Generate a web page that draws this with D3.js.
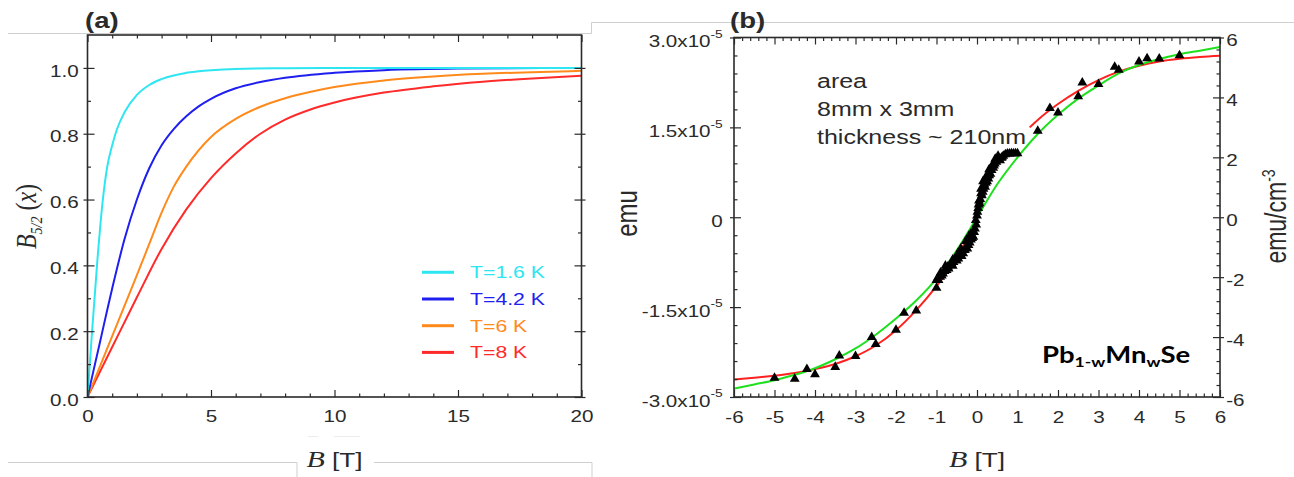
<!DOCTYPE html>
<html><head><meta charset="utf-8">
<script src="https://cdn.jsdelivr.net/npm/d3@7"></script>
<style>
html,body{margin:0;padding:0;background:#fff;}
svg{display:block;}
</style></head><body>
<svg id="c" width="1294" height="477"></svg>
<script>
// ================= DATA =================
// Panel (a): B_5/2(x) versus field B [T]
const cyanB   = [0,0.2,0.4,0.6,0.8,1.0,1.2,1.5,2,2.5,3,4,5,6,8,10,14,20];
const cyanV   = [0,0.215,0.415,0.585,0.70,0.765,0.815,0.865,0.918,0.948,0.966,0.985,0.993,0.997,0.999,1,1,1];
const blueB   = [0,0.5,1,1.5,2,2.5,3,3.5,4,4.5,5,6,7,8,10,12,15,20];
const blueV   = [0,0.165,0.33,0.48,0.60,0.695,0.765,0.815,0.853,0.883,0.906,0.938,0.957,0.97,0.985,0.993,0.998,1.0];
const orangeB = [0,1,2,2.5,3,3.5,4,5,6,7,8,9,10,12,14,16,18,20];
const orangeV = [0,0.185,0.37,0.465,0.56,0.64,0.70,0.79,0.845,0.882,0.908,0.927,0.942,0.962,0.974,0.982,0.987,0.991];
const redB    = [0,1,2,3,4,5,6,7,8,9,10,12,14,16,18,20];
const redV    = [0,0.152,0.303,0.45,0.57,0.665,0.74,0.80,0.843,0.873,0.895,0.925,0.944,0.958,0.968,0.976];
const legendLabels = ["T=1.6 K","T=4.2 K","T=6 K","T=8 K"];
const legendColors = ["#2ee6f2","#1f1ff0","#ff8a1c","#ff2a2a"];
const xTicksA  = [0,5,10,15,20];
const xLabelsA = ["0","5","10","15","20"];
const yTicksA  = [0,0.2,0.4,0.6,0.8,1.0];
const yLabelsA = ["0.0","0.2","0.4","0.6","0.8","1.0"];

// Panel (b): magnetization (emu/cm^3, right axis) versus B [T]
const greenB = [-6,-5.5,-5,-4.5,-4,-3.5,-3,-2.5,-2,-1.5,-1,-0.5,0,0.5,1,1.5,2,2.5,3,3.5,4,4.5,5,5.5,6];
const greenM = [-5.72,-5.58,-5.44,-5.26,-5.04,-4.74,-4.38,-3.92,-3.38,-2.78,-2.05,-1.1,0,1.1,2.0,2.78,3.42,3.96,4.4,4.8,5.08,5.28,5.44,5.56,5.68];
const redNegB = [-6,-5.5,-5,-4.5,-4,-3.5,-3,-2.5,-2,-1.5,-1,-0.5,-0.25,0,0.15];
const redNegM = [-5.42,-5.36,-5.29,-5.2,-5.07,-4.9,-4.64,-4.28,-3.77,-3.1,-2.3,-1.35,-0.72,0,0.45];
const redPosB = [1.3,1.5,2,2.5,3,3.5,4,4.5,5,5.5,6];
const redPosM = [3.0,3.25,3.78,4.22,4.58,4.86,5.06,5.2,5.29,5.35,5.39];
const triB = [-5,-4.5,-4.2,-4,-3.5,-3.4,-3,-2.6,-2.5,-2,-1.8,-1.5,-1,-1,
              1.5,1.8,2,2.5,2.6,3,3.4,3.5,4,4.2,4.5,5];
const triM = [-5.36,-5.4,-5.07,-5.25,-5.0,-4.62,-4.64,-4.0,-4.24,-3.76,-3.19,-3.12,-2.36,-2.1,
              2.88,3.64,3.49,4.03,4.49,4.44,5.02,4.92,5.19,5.3,5.29,5.4];
const clusterB = [-0.98,-0.95,-0.91,-0.87,-0.84,-0.8,-0.75,-0.72,-0.7,-0.66,-0.63,-0.6,-0.58,-0.54,-0.5,-0.46,-0.42,-0.38,-0.34,-0.3,-0.27,-0.24,-0.21,-0.18,-0.15,-0.12,-0.09,-0.07,-0.05,-0.03,-0.02,
                  0,0.01,0.03,0.05,0.06,0.08,0.1,0.12,0.14,0.16,0.18,0.2,0.22,0.25,0.28,0.3,0.33,0.36,0.4,0.44,0.48,0.53,0.57,0.6,0.65,0.7,0.75,0.8,0.85,0.9,0.95,1.0,
                  0.1,0.15,0.22,0.3,0.38,0.45,0.52,-0.4,-0.28,-0.15,-0.6,-0.78,-0.9,0.04,0.26,0.42,0.62,-0.47,-0.2];
const clusterM = [-2.05,-2.1,-1.99,-1.95,-1.88,-1.8,-1.77,-1.65,-1.72,-1.6,-1.54,-1.62,-1.5,-1.4,-1.45,-1.38,-1.25,-1.3,-1.21,-1.1,-1.0,-1.05,-0.93,-0.85,-0.75,-0.7,-0.66,-0.5,-0.38,-0.1,-0.25,
                  0.05,0.18,0.3,0.55,0.46,0.6,0.8,0.73,0.85,0.95,1.1,1.01,1.15,1.2,1.29,1.4,1.45,1.57,1.65,1.79,1.85,1.96,1.9,1.98,2.05,2.1,2.12,2.12,2.13,2.13,2.13,2.13,
                  0.95,1.2,1.35,1.6,1.75,1.95,2.05,-1.05,-0.8,-0.55,-1.42,-1.62,-1.85,0.42,1.38,1.72,2.0,-1.2,-0.62];
const xTicksB  = [-6,-5,-4,-3,-2,-1,0,1,2,3,4,5,6];
const xLabelsB = ["-6","-5","-4","-3","-2","-1","0","1","2","3","4","5","6"];
const yLeftTicks    = [-3e-5,-1.5e-5,0,1.5e-5,3e-5];
const yLeftMantissa = ["-3.0x10","-1.5x10","0","1.5x10","3.0x10"];
const yLeftExponent = ["-5","-5","","-5","-5"];
const yRightTicks  = [-6,-4,-2,0,2,4,6];
const yRightLabels = ["-6","-4","-2","0","2","4","6"];
const noteLines = ["area","8mm x 3mm","thickness ~ 210nm"];

// ================= DRAW =================
const svg = d3.select('#c');
const SX = 1.25;                 // the original figure is stretched horizontally
const SANS = '"Liberation Sans", Arial, Helvetica, sans-serif';
const SERIF = '"Liberation Serif", "Times New Roman", serif';
const INK = '#2a2a2a';

function stext(parent, x, y, rot) {
  const g = parent.append('g').attr('transform', `translate(${x},${y}) scale(${SX},1)` + (rot ? ` rotate(${rot})` : ''));
  return g.append('text').attr('fill', INK);
}
function styleAxis(g, fs) {
  g.select('.domain').remove();
  g.attr('font-family', SANS).attr('font-size', fs);
  g.selectAll('.tick line').attr('stroke', INK).attr('stroke-width', 1.2);
  g.selectAll('.tick text').attr('fill', INK).attr('transform', `scale(${SX},1)`);
}

// decorative slide frame lines
const deco = svg.append('g').attr('stroke', '#cfcfcf').attr('fill', 'none').attr('stroke-width', 1);
deco.append('path').attr('d', 'M8,33.5H591.5V22.5H1294');
deco.append('path').attr('d', 'M8,462.5H297V477');
deco.append('path').attr('d', 'M374,462.5H592V477');
deco.append('path').attr('stroke', '#ececec').attr('d', 'M308,436.5H318M334,436.5H360');

// ---------- Panel (a) ----------
const A = {l: 87.5, r: 581.5, t: 35, b: 397};
const xA = d3.scaleLinear().domain([0, 20]).range([A.l, A.r]);
const yA = d3.scaleLinear().domain([0, 1.1]).range([A.b, A.t]);
const ga = svg.append('g');
ga.append('clipPath').attr('id', 'clipA').append('rect')
  .attr('x', A.l).attr('y', A.t).attr('width', A.r - A.l).attr('height', A.b - A.t);

const lineA = d3.line().x(d => xA(d[0])).y(d => yA(d[1])).curve(d3.curveMonotoneX);
const seriesA = [
  {b: redB, v: redV, c: legendColors[3]},
  {b: orangeB, v: orangeV, c: legendColors[2]},
  {b: blueB, v: blueV, c: legendColors[1]},
  {b: cyanB, v: cyanV, c: legendColors[0]}
];
seriesA.forEach(s => {
  ga.append('path').datum(d3.zip(s.b, s.v)).attr('d', lineA)
    .attr('fill', 'none').attr('stroke', s.c).attr('stroke-width', 2).attr('clip-path', 'url(#clipA)');
});

const xMinA = d3.range(1, 20).filter(v => v % 5 !== 0);
const yMinA = [0.1, 0.3, 0.5, 0.7, 0.9];
// bottom
ga.append('g').attr('transform', `translate(0,${A.b})`)
  .call(d3.axisBottom(xA).tickValues(xTicksA).tickSize(-7).tickPadding(13).tickFormat((d, i) => xLabelsA[i]))
  .call(g => styleAxis(g, 16.5));
ga.append('g').attr('transform', `translate(0,${A.b})`)
  .call(d3.axisBottom(xA).tickValues(xMinA).tickSize(-3.5).tickFormat(''))
  .call(g => styleAxis(g, 16.5));
// top
ga.append('g').attr('transform', `translate(0,${A.t})`)
  .call(d3.axisTop(xA).tickValues(xTicksA).tickSize(-7).tickFormat(''))
  .call(g => styleAxis(g, 16.5));
ga.append('g').attr('transform', `translate(0,${A.t})`)
  .call(d3.axisTop(xA).tickValues(xMinA).tickSize(-3.5).tickFormat(''))
  .call(g => styleAxis(g, 16.5));
// left
ga.append('g').attr('transform', `translate(${A.l},0)`)
  .call(d3.axisLeft(yA).tickValues(yTicksA).tickSize(4).tickPadding(3).tickFormat((d, i) => yLabelsA[i]))
  .call(g => { styleAxis(g, 16.5); g.selectAll('.tick text').attr('dy', '0.5em'); });
ga.append('g').attr('transform', `translate(${A.l},0)`)
  .call(d3.axisLeft(yA).tickValues(yTicksA).tickSize(-7).tickFormat(''))
  .call(g => styleAxis(g, 16.5));
ga.append('g').attr('transform', `translate(${A.l},0)`)
  .call(d3.axisLeft(yA).tickValues(yMinA).tickSize(-3.5).tickFormat(''))
  .call(g => styleAxis(g, 16.5));
// right
ga.append('g').attr('transform', `translate(${A.r},0)`)
  .call(d3.axisRight(yA).tickValues(yTicksA).tickSize(4).tickFormat(''))
  .call(g => styleAxis(g, 16.5));
ga.append('g').attr('transform', `translate(${A.r},0)`)
  .call(d3.axisRight(yA).tickValues(yTicksA).tickSize(-7).tickFormat(''))
  .call(g => styleAxis(g, 16.5));
ga.append('g').attr('transform', `translate(${A.r},0)`)
  .call(d3.axisRight(yA).tickValues(yMinA).tickSize(-3.5).tickFormat(''))
  .call(g => styleAxis(g, 16.5));
// frame
ga.append('rect').attr('x', A.l).attr('y', A.t).attr('width', A.r - A.l).attr('height', A.b - A.t)
  .attr('fill', 'none').attr('stroke', INK).attr('stroke-width', 1.6);

// legend
legendLabels.forEach((lab, i) => {
  const y = 272.3 + i * 26.7;
  ga.append('line').attr('x1', 422).attr('x2', 454).attr('y1', y).attr('y2', y)
    .attr('stroke', legendColors[i]).attr('stroke-width', 3);
  stext(ga, 470, y + 6).attr('font-family', SANS).attr('font-size', 17)
    .attr('fill', legendColors[i]).text(lab);
});

// panel label
stext(ga, 85, 28).attr('font-family', SANS).attr('font-size', 22).attr('font-weight', 'bold').text('(a)');

// x title
{
  const t = stext(ga, xA(10), 467).attr('text-anchor', 'middle');
  t.append('tspan').attr('font-family', SERIF).attr('font-style', 'italic').attr('font-size', 24).text('B');
  t.append('tspan').attr('font-family', SANS).attr('font-size', 21).text(' [T]');
}
// y title
{
  const t = stext(ga, 36, 216.5, -90).attr('text-anchor', 'middle').attr('font-family', SERIF);
  t.append('tspan').attr('font-style', 'italic').attr('font-size', 24).text('B');
  t.append('tspan').attr('font-style', 'italic').attr('font-size', 14).attr('dy', 5).text('5/2');
  t.append('tspan').attr('font-size', 24).attr('dy', -5).text(' (');
  t.append('tspan').attr('font-style', 'italic').attr('font-size', 24).text('x');
  t.append('tspan').attr('font-size', 24).text(')');
}

// ---------- Panel (b) ----------
const Bp = {l: 734, r: 1220, t: 37.5, b: 397};
const xB = d3.scaleLinear().domain([-6, 6]).range([Bp.l, Bp.r]);
const yR = d3.scaleLinear().domain([-6, 6]).range([Bp.b, Bp.t]);
const yL = d3.scaleLinear().domain([-3e-5, 3e-5]).range([Bp.b, Bp.t]);
const gb = svg.append('g');
gb.append('clipPath').attr('id', 'clipB').append('rect')
  .attr('x', Bp.l).attr('y', Bp.t).attr('width', Bp.r - Bp.l).attr('height', Bp.b - Bp.t);

const lineB = d3.line().x(d => xB(d[0])).y(d => yR(d[1])).curve(d3.curveMonotoneX);
gb.append('path').datum(d3.zip(redNegB, redNegM)).attr('d', lineB)
  .attr('fill', 'none').attr('stroke', '#ff2020').attr('stroke-width', 2).attr('clip-path', 'url(#clipB)');
gb.append('path').datum(d3.zip(redPosB, redPosM)).attr('d', lineB)
  .attr('fill', 'none').attr('stroke', '#ff2020').attr('stroke-width', 2).attr('clip-path', 'url(#clipB)');
gb.append('path').datum(d3.zip(greenB, greenM)).attr('d', lineB)
  .attr('fill', 'none').attr('stroke', '#1ee01e').attr('stroke-width', 2).attr('clip-path', 'url(#clipB)');

const tri = d3.symbol(d3.symbolTriangle).size(42);
gb.append('g').selectAll('path').data(d3.zip(triB.concat(clusterB), triM.concat(clusterM))).join('path')
  .attr('transform', d => `translate(${xB(d[0])},${yR(d[1])})`).attr('d', tri).attr('fill', '#000');

const xMinB = d3.range(-30, 31).filter(k => k % 5 !== 0).map(k => k / 5);
const yRMin = d3.range(-15, 16).filter(k => k % 5 !== 0).map(k => k * 0.4);
const yLMin = d3.range(-10, 11).filter(k => k % 5 !== 0).map(k => k * 3e-6);
// bottom
gb.append('g').attr('transform', `translate(0,${Bp.b})`)
  .call(d3.axisBottom(xB).tickValues(xTicksB).tickSize(-7).tickPadding(14).tickFormat((d, i) => xLabelsB[i]))
  .call(g => styleAxis(g, 16.5));
gb.append('g').attr('transform', `translate(0,${Bp.b})`)
  .call(d3.axisBottom(xB).tickValues(xMinB).tickSize(-3.5).tickFormat(''))
  .call(g => styleAxis(g, 16.5));
// top
gb.append('g').attr('transform', `translate(0,${Bp.t})`)
  .call(d3.axisTop(xB).tickValues(xTicksB).tickSize(-7).tickFormat(''))
  .call(g => styleAxis(g, 16.5));
gb.append('g').attr('transform', `translate(0,${Bp.t})`)
  .call(d3.axisTop(xB).tickValues(xMinB).tickSize(-3.5).tickFormat(''))
  .call(g => styleAxis(g, 16.5));
// left (emu)
gb.append('g').attr('transform', `translate(${Bp.l},0)`)
  .call(d3.axisLeft(yL).tickValues(yLeftTicks).tickSize(4).tickPadding(5).tickFormat(''))
  .call(g => {
    styleAxis(g, 16.5);
    g.selectAll('.tick text').attr('dy', '0.55em').each(function (d, i) {
      const t = d3.select(this);
      t.append('tspan').text(yLeftMantissa[i]);
      if (yLeftExponent[i]) t.append('tspan').attr('font-size', 11).attr('dy', '-0.85em').text(yLeftExponent[i]);
    });
  });
gb.append('g').attr('transform', `translate(${Bp.l},0)`)
  .call(d3.axisLeft(yL).tickValues(yLeftTicks).tickSize(-7).tickFormat(''))
  .call(g => styleAxis(g, 16.5));
gb.append('g').attr('transform', `translate(${Bp.l},0)`)
  .call(d3.axisLeft(yL).tickValues(yLMin).tickSize(-3.5).tickFormat(''))
  .call(g => styleAxis(g, 16.5));
// right (emu/cm^3)
gb.append('g').attr('transform', `translate(${Bp.r},0)`)
  .call(d3.axisRight(yR).tickValues(yRightTicks).tickSize(4).tickPadding(1).tickFormat((d, i) => yRightLabels[i]))
  .call(g => { styleAxis(g, 16.5); g.selectAll('.tick text').attr('dy', '0.5em'); });
gb.append('g').attr('transform', `translate(${Bp.r},0)`)
  .call(d3.axisRight(yR).tickValues(yRightTicks).tickSize(-7).tickFormat(''))
  .call(g => styleAxis(g, 16.5));
gb.append('g').attr('transform', `translate(${Bp.r},0)`)
  .call(d3.axisRight(yR).tickValues(yRMin).tickSize(-3.5).tickFormat(''))
  .call(g => styleAxis(g, 16.5));
// frame
gb.append('rect').attr('x', Bp.l).attr('y', Bp.t).attr('width', Bp.r - Bp.l).attr('height', Bp.b - Bp.t)
  .attr('fill', 'none').attr('stroke', INK).attr('stroke-width', 1.6);

// panel label
stext(gb, 730, 28).attr('font-family', SANS).attr('font-size', 22).attr('font-weight', 'bold').text('(b)');
// notes
noteLines.forEach((s, i) => {
  stext(gb, 817, 88 + i * 28).attr('font-family', SANS).attr('font-size', 20).text(s);
});
// compound label
{
  const t = stext(gb, 1042, 363).attr('font-family', 'Lato, "Open Sans", sans-serif').attr('font-weight', 'bold').attr('font-size', 22).attr('fill', '#000');
  t.append('tspan').text('Pb');
  t.append('tspan').attr('font-size', 14).attr('dy', 4).text('1-w');
  t.append('tspan').attr('dy', -4).text('Mn');
  t.append('tspan').attr('font-size', 14).attr('dy', 4).text('w');
  t.append('tspan').attr('dy', -4).text('Se');
}
// x title
{
  const t = stext(gb, xB(0), 467).attr('text-anchor', 'middle');
  t.append('tspan').attr('font-family', SERIF).attr('font-style', 'italic').attr('font-size', 24).text('B');
  t.append('tspan').attr('font-family', SANS).attr('font-size', 21).text(' [T]');
}
// left y title
stext(gb, 637, 213.5, -90).attr('text-anchor', 'middle').attr('font-family', SANS).attr('font-size', 24).text('emu');
// right y title
{
  const t = stext(gb, 1286, 216.5, -90).attr('text-anchor', 'middle').attr('font-family', SANS).attr('font-size', 23);
  t.append('tspan').text('emu/cm');
  t.append('tspan').attr('font-size', 14).attr('dy', -9).text('-3');
}
</script>
</body></html>
